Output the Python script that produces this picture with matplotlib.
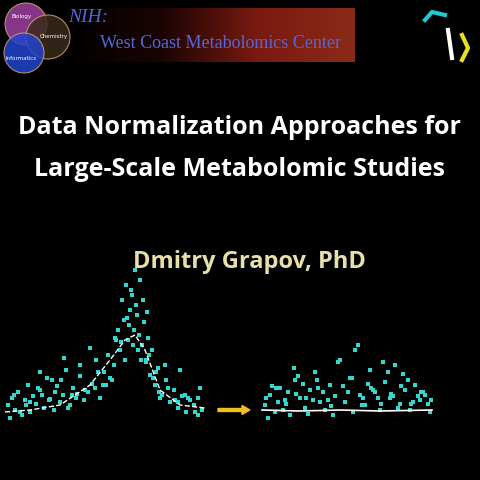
import matplotlib
matplotlib.use("Agg")
import matplotlib.pyplot as plt
import numpy as np
from matplotlib.patches import Circle, FancyArrow
from matplotlib.colors import LinearSegmentedColormap

title_lines = ["Data Normalization Approaches for", "Large-Scale Metabolomic Studies"]
author = "Dmitry Grapov, PhD"
venn_labels = ["Biology", "Chemistry", "Informatics"]

left_x = [8,12,15,18,22,25,28,30,33,36,40,44,47,50,54,57,60,63,66,70,73,76,80,84,88,92,96,100,104,
          108,112,116,120,122,124,126,128,130,132,134,136,138,140,142,144,146,148,150,152,155,158,
          162,166,170,174,178,182,186,190,194,198,202,
          10,20,30,42,55,68,80,95,110,118,125,131,137,143,149,156,165,175,185,195,200,
          40,52,64,77,90,103,115,127,133,139,146,160,180,
          14,26,38,49,61,72,85,98,106,114,121,129,135,141,147,153,159,168,178,188,198]
left_y = [405,398,410,392,415,400,385,412,396,404,390,408,378,399,410,386,402,395,370,405,388,398,
          376,400,392,384,360,398,372,355,380,340,350,300,320,285,340,310,295,330,305,350,280,345,
          322,360,338,375,350,385,368,395,380,402,390,408,396,412,400,405,398,410,
          418,412,402,395,392,408,365,388,378,330,360,290,315,300,355,372,365,400,395,412,388,
          372,380,358,394,348,385,338,318,345,335,362,398,370,
          395,405,388,400,380,395,390,372,385,365,342,325,270,360,312,378,392,388,402,398,415]
left_trend_x = [5,30,60,90,110,125,135,145,160,180,205]
left_trend_y = [412,410,405,385,360,340,335,350,390,405,408]

right_x = [265,270,275,280,285,290,295,300,305,310,315,320,325,330,335,340,345,350,355,360,365,370,
           375,380,385,390,395,400,405,410,415,420,425,430,
           268,278,288,298,308,318,328,338,348,358,368,378,388,398,408,418,428,
           272,283,294,306,317,333,352,362,373,383,393,403,413,423,
           266,276,286,296,303,313,323,331,343,353,363,371,381,391,401,411,421,431]
right_y = [405,395,412,388,400,415,380,398,408,390,372,402,410,385,396,360,402,378,350,395,405,370,
           392,410,382,398,365,404,390,410,385,400,395,412,
           418,402,392,376,414,388,400,362,392,345,384,398,372,408,380,396,404,
           386,410,368,398,380,415,378,405,390,362,396,374,402,392,
           398,388,404,394,384,400,392,406,386,412,398,388,404,394,386,404,392,400]
right_trend_x = [262,300,340,380,432]
right_trend_y = [410,411,410,411,410]

fig = plt.figure(figsize=(4.8, 4.8), dpi=100, facecolor="black")
ax = fig.add_axes([0, 0, 1, 1])
ax.set_xlim(0, 480); ax.set_ylim(480, 0); ax.axis("off")
ax.set_facecolor("black")

grad = np.linspace(0, 1, 256)[None, :]
cm = LinearSegmentedColormap.from_list("b", ["#000000", "#1a0404", "#7a1a10", "#8a2a18"])
ax.imshow(grad, extent=[65, 355, 62, 8], cmap=cm, aspect="auto", zorder=1)
ax.text(68, 18, "NIH:", color="#5566dd", fontsize=14, family="Liberation Serif", style="italic", va="center", zorder=3)
ax.text(100, 43, "West Coast Metabolomics Center", color="#5566dd", fontsize=13, family="Liberation Serif", va="center", zorder=3)

for cx, cy, r, col in [(26, 24, 21, "#a040a0"), (48, 37, 22, "#3a2a1a"), (24, 53, 20, "#2244cc")]:
    ax.add_patch(Circle((cx, cy), r, facecolor=col, edgecolor="#c8a070", lw=0.8, alpha=0.85, zorder=2))
ax.text(12, 18, venn_labels[0], fontsize=4, color="white", zorder=4)
ax.text(40, 38, venn_labels[1], fontsize=4, color="white", zorder=4)
ax.text(6, 60, venn_labels[2], fontsize=4, color="white", zorder=4)

ax.plot([425, 432, 445], [20, 12, 15], color="#20c8d0", lw=3, zorder=3)
ax.plot([448, 452], [30, 58], color="white", lw=3, zorder=3)
ax.plot([462, 468, 462], [35, 48, 60], color="#e8e020", lw=3, zorder=3)

for i, line in enumerate(title_lines):
    ax.text(240, 127 + i * 42, line, color="white", fontsize=18, family="Open Sans", weight="bold",
            ha="center", va="center")
ax.text(249, 262, author, color="#e6dfa8", fontsize=17, family="Open Sans", weight="bold",
        ha="center", va="center")

ax.scatter(left_x, left_y, s=6, c="#30d8d0", marker="s", linewidths=0, zorder=3)
ax.plot(left_trend_x, left_trend_y, color="white", lw=1, ls="--", zorder=4)
ax.scatter(right_x, right_y, s=6, c="#30d8d0", marker="s", linewidths=0, zorder=3)
ax.plot(right_trend_x, right_trend_y, color="white", lw=1.2, zorder=4)

ax.add_patch(FancyArrow(218, 410, 24, 0, width=3, head_width=9, head_length=8, color="#f0c020", zorder=3))

fig.savefig("out.png", dpi=100, facecolor="black")
